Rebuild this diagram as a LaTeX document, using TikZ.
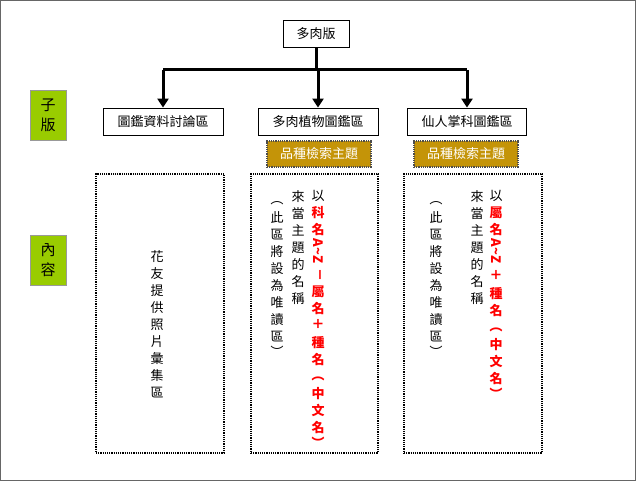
\documentclass[tikz,border=0pt]{standalone}
\usepackage{fontspec}
\setmainfont{Noto Sans CJK TC}
\usepackage{graphicx}
\usetikzlibrary{arrows.meta,positioning}
\definecolor{gold}{RGB}{196,148,8}
\definecolor{leaf}{RGB}{153,204,0}
\newcommand{\rd}[1]{\textcolor{red}{\bfseries #1}}
\newcommand{\rotw}[1]{\raisebox{0.1em}{\rotatebox[origin=c]{-90}{\,#1\,}}}

\begin{document}
\begin{tikzpicture}[x=1pt,y=-1pt,
  every node/.style={font=\fontsize{13}{17}\selectfont},
  board/.style={draw, thick, fill=white, minimum height=27pt, inner sep=2pt},
  tag/.style={draw=black!70, densely dotted, very thick, fill=gold, text=white,
    minimum width=104pt, minimum height=26pt, inner sep=1pt},
  side/.style={draw=black!40, fill=leaf, minimum width=36pt, minimum height=50pt,
    align=center, font=\fontsize{15}{20}\selectfont},
  area/.style={draw, densely dotted, very thick},
  column/.style={align=center, anchor=north, inner sep=0pt},
  link/.style={line width=3pt, -{Triangle[length=9pt,width=11pt]}}]
\draw[black!60, fill=white] (0.5,0.5) rectangle (635.5,480.5);
\useasboundingbox (0,0) rectangle (636,481);

% top and sub boards
\node[board, minimum width=66pt] (root) at (316,33.5) {多肉版};
\node[board, minimum width=120pt] (atlas) at (163,121.5) {圖鑑資料討論區};
\node[board, minimum width=120pt] (succ) at (318,121.5) {多肉植物圖鑑區};
\node[board, minimum width=119pt] (cact) at (467,121.5) {仙人掌科圖鑑區};
\coordinate (hub) at (316,70);
\draw[line width=3pt] (root.south) -- (hub);
\draw[line width=3pt] (atlas.north |- hub) -- (cact.north |- hub);
\draw[link] (atlas.north |- hub) -- (atlas.north);
\draw[link] (succ.north |- hub) -- (succ.north);
\draw[link] (cact.north |- hub) -- (cact.north);

% left labels
\node[side] (sub) at (48,115) {子\\版};
\node[side] (body) at (48,260) {內\\容};

% topic tags
\node[tag] (tag1) at (319,154) {品種檢索主題};
\node[tag] (tag2) at (466,154) {品種檢索主題};

% content areas
\node[area, minimum width=128pt, minimum height=279pt] (box1) at (160,313.5) {};
\node[area, minimum width=127pt, minimum height=279pt] (box2) at (314.5,313.5) {};
\node[area, minimum width=138pt, minimum height=279pt] (box3) at (473,313.5) {};

\node[column] (photo) at (157,250) {花\\友\\提\\供\\照\\片\\彙\\集\\區};

\node[column] (key1) at (318,190) {以\\\rd{科}\\\rd{名}\\\rd{\rotw{A\textasciitilde Z}}\\\rd{\rotw{－}}\\\rd{屬}\\\rd{名}\\\rd{\rotw{＋}}\\\rd{種}\\\rd{名}\\\rd{\rotw{（}}\\\rd{中}\\\rd{文}\\\rd{名}\\\rd{\rotw{）}}};
\node[column] (name1) at (298,190) {來\\當\\主\\題\\的\\名\\稱};
\node[column] (ro1) at (277,190) {\rotw{（}\\此\\區\\將\\設\\為\\唯\\讀\\區\\\rotw{）}};

\node[column] (key2) at (496,190) {以\\\rd{屬}\\\rd{名}\\\rd{\rotw{A\textasciitilde Z}}\\\rd{\rotw{＋}}\\\rd{種}\\\rd{名}\\\rd{\rotw{（}}\\\rd{中}\\\rd{文}\\\rd{名}\\\rd{\rotw{）}}};
\node[column] (name2) at (477,190) {來\\當\\主\\題\\的\\名\\稱};
\node[column] (ro2) at (436,190) {\rotw{（}\\此\\區\\將\\設\\為\\唯\\讀\\區\\\rotw{）}};
\end{tikzpicture}
\end{document}
